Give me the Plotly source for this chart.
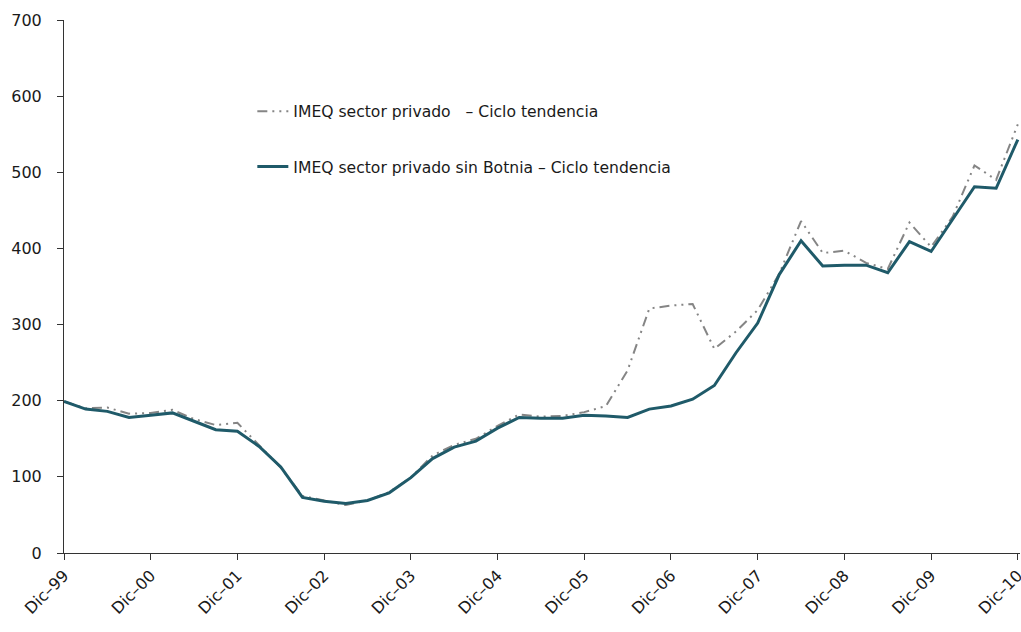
import plotly.graph_objects as go

tick_labels = ["Dic–99", "Dic–00", "Dic–01", "Dic–02", "Dic–03", "Dic–04",
               "Dic–05", "Dic–06", "Dic–07", "Dic–08", "Dic–09", "Dic–10"]

# quarterly index (Dic-99 = 0 ... Dic-10 = 44)
quarters = list(range(45))

imeq_privado = [199, 190, 191, 183, 184, 188, 176, 168, 171, 142,
                112, 75, 69, 63, 69, 80, 99, 128, 142, 150,
                167, 182, 179, 180, 185, 193, 240, 321, 325, 327,
                268, 291, 319, 367, 436, 394, 397, 381, 373, 434,
                402, 442, 509, 490, 563]

imeq_sin_botnia = [199, 189, 186, 178, 181, 184, 173, 162, 160, 140,
                   113, 73, 68, 65, 69, 79, 99, 124, 139, 147,
                   164, 178, 177, 177, 181, 180, 178, 189, 193, 202,
                   220, 263, 302, 366, 410, 377, 378, 378, 368, 409,
                   396, 438, 481, 479, 543]

font_family = "DejaVu Sans, sans-serif"

fig = go.Figure()
fig.add_trace(go.Scatter(
    x=quarters, y=imeq_privado, mode="lines",
    name="IMEQ sector privado   – Ciclo tendencia",
    line=dict(color="#858585", width=2, dash="10px,5px,2px,5px,2px,5px"),
    legendgroup="a",
))
fig.add_trace(go.Scatter(
    x=quarters, y=imeq_sin_botnia, mode="lines",
    name="IMEQ sector privado sin Botnia – Ciclo tendencia",
    line=dict(color="#1f5a69", width=3),
    legendgroup="b",
))

fig.update_layout(
    width=1021, height=632,
    margin=dict(l=64, r=1, t=20, b=79),
    paper_bgcolor="white", plot_bgcolor="white",
    font=dict(family=font_family, size=16, color="#1a1a1a"),
    showlegend=True,
    legend=dict(
        x=0.197, y=0.86, xanchor="left", yanchor="top",
        bgcolor="rgba(0,0,0,0)",
        font=dict(size=15.6),
        tracegroupgap=32, itemwidth=31,
    ),
)
fig.update_xaxes(
    range=[0, 44.1], tickvals=[i * 4 for i in range(12)], ticktext=tick_labels,
    tickangle=-45, showgrid=False, zeroline=False,
    showline=True, linecolor="#333333", linewidth=1,
    ticks="outside", ticklen=6, tickcolor="#333333",
    tickfont=dict(size=16), ticklabeloverflow="allow", automargin=False,
)
fig.update_yaxes(
    range=[0, 700], tickvals=list(range(0, 701, 100)),
    showgrid=False, zeroline=False,
    showline=True, linecolor="#333333", linewidth=1,
    ticks="outside", ticklen=6, tickcolor="#333333",
    tickfont=dict(size=16), ticklabelstandoff=12, automargin=False,
)

fig.write_html("out.html")
